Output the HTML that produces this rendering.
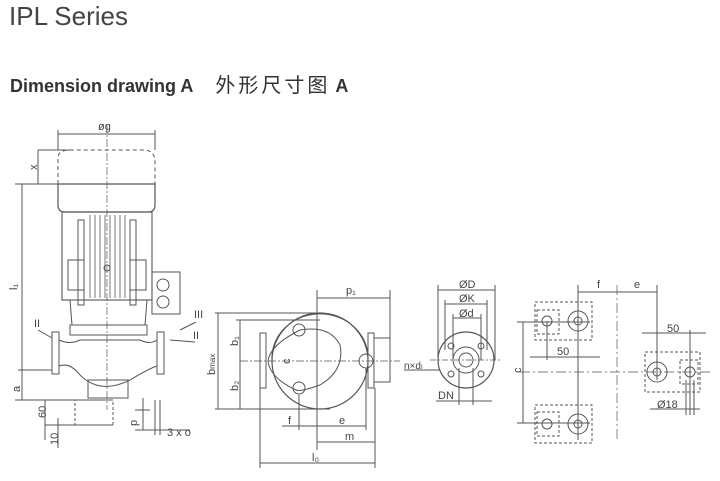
<!DOCTYPE html>
<html><head><meta charset="utf-8"><style>
body{margin:0;background:#fff;width:720px;height:481px;overflow:hidden;font-family:"Liberation Sans",sans-serif}
.t1{position:absolute;left:9px;top:1px;font-size:26px;color:#444}
.t2{position:absolute;left:10px;top:69px;font-size:18px;font-weight:bold;color:#333;font-family:"Liberation Sans","Noto Sans CJK SC",sans-serif}
.t2 span{font-weight:normal;margin-left:22px;font-size:20px;letter-spacing:3px}
svg{position:absolute;left:0;top:0}
</style></head><body>
<div class="t1">IPL Series</div>
<div class="t2">Dimension drawing A<span>外形尺寸图</span> <b>A</b></div>
<svg width="720" height="481" viewBox="0 0 720 481" fill="none" stroke="#555" stroke-width="1" font-family="Liberation Sans,sans-serif" font-size="11">
<g fill="#444" stroke="none">
<text x="98" y="130">øg</text>
<text x="37" y="170" transform="rotate(-90 37 170)">x</text>
<text x="17" y="290" transform="rotate(-90 17 290)">l₁</text>
<text x="20" y="392" transform="rotate(-90 20 392)">a</text>
<text x="46" y="418" transform="rotate(-90 46 418)">60</text>
<text x="58" y="445" transform="rotate(-90 58 445)">10</text>
<text x="137" y="426" transform="rotate(-90 137 426)">p</text>
<text x="167" y="436">3 x o</text>
<text x="34" y="327">II</text>
<text x="194" y="318">III</text>
<text x="193" y="339">II</text>
<text x="215" y="375" transform="rotate(-90 215 375)">b<tspan font-size="8">max</tspan></text>
<text x="238" y="346" transform="rotate(-90 238 346)">b₁</text>
<text x="238" y="391" transform="rotate(-90 238 391)">b₂</text>
<text x="290" y="364" transform="rotate(-90 290 364)">c</text>
<text x="346" y="294">p₁</text>
<text x="288" y="424">f</text>
<text x="339" y="424">e</text>
<text x="345" y="440">m</text>
<text x="312" y="461">l₀</text>
<text x="459" y="288">ØD</text>
<text x="459" y="302">ØK</text>
<text x="459" y="317">Ød</text>
<text x="404" y="369" font-size="10">n×dₗ</text>
<text x="438" y="399">DN</text>
<text x="597" y="288">f</text>
<text x="634" y="288">e</text>
<text x="521" y="373" transform="rotate(-90 521 373)">c</text>
<text x="557" y="355">50</text>
<text x="667" y="332">50</text>
<text x="657" y="408">Ø18</text>
</g>
<!-- left view -->
<line x1="58" y1="130" x2="58" y2="150"/><line x1="155" y1="130" x2="155" y2="150"/>
<line x1="58" y1="134" x2="155" y2="134"/>
<path d="M58 184 V158 Q58 150 70 150 H143 Q155 150 155 162 V184" stroke-dasharray="4 3"/>
<line x1="38" y1="150" x2="70" y2="150"/><line x1="38" y1="150" x2="38" y2="184"/>
<line x1="15" y1="184" x2="58" y2="184"/>
<path d="M58 184 H155 V205 Q155 212 148 212 H65 Q58 212 58 205 Z" stroke-width="1.2"/>
<rect x="62" y="212" width="90" height="88" stroke-width="1.1"/>
<g stroke-width="0.8"><line x1="90" y1="215" x2="90" y2="298"/><line x1="95" y1="215" x2="95" y2="298"/><line x1="100" y1="215" x2="100" y2="298"/><line x1="105" y1="215" x2="105" y2="298"/><line x1="110" y1="215" x2="110" y2="298"/><line x1="115" y1="215" x2="115" y2="298"/><line x1="120" y1="215" x2="120" y2="298"/><line x1="125" y1="215" x2="125" y2="298"/></g>
<rect x="68" y="260" width="16" height="30"/><rect x="130" y="260" width="16" height="30"/>
<rect x="78" y="220" width="6" height="85"/><rect x="130" y="220" width="6" height="85"/>
<rect x="152" y="272" width="28" height="42"/>
<circle cx="163" cy="285" r="6"/><circle cx="163" cy="302" r="6"/>
<circle cx="107" cy="268" r="3"/>
<path d="M70 300 L72 325 H145 L147 300"/>
<rect x="70" y="325" width="77" height="10"/>
<rect x="52" y="332" width="7" height="42"/><rect x="157" y="332" width="7" height="42"/>
<path d="M59 340 Q70 345 80 340 H140 Q150 345 157 340 M59 366 Q70 362 80 375 Q100 395 130 380 Q150 368 157 366"/>
<rect x="88" y="380" width="40" height="18"/>
<line x1="107" y1="125" x2="107" y2="410" stroke-dasharray="8 2 2 2" stroke-width="0.7"/>
<line x1="22" y1="184" x2="22" y2="400"/>
<line x1="15" y1="400" x2="110" y2="400"/>
<line x1="18" y1="370" x2="52" y2="370"/><line x1="22" y1="370" x2="22" y2="400"/>
<rect x="75" y="400" width="38" height="25" stroke-dasharray="3 2"/>
<line x1="45" y1="425" x2="113" y2="425"/><line x1="45" y1="400" x2="45" y2="440"/><line x1="58" y1="418" x2="58" y2="448"/>
<line x1="38" y1="330" x2="52" y2="338"/><line x1="196" y1="322" x2="180" y2="330"/><line x1="195" y1="342" x2="170" y2="340"/>
<line x1="143" y1="398" x2="143" y2="430"/><line x1="135" y1="410" x2="150" y2="410"/><line x1="135" y1="430" x2="190" y2="430"/><line x1="155" y1="400" x2="155" y2="435"/><line x1="160" y1="400" x2="160" y2="435"/>
<!-- middle view -->
<line x1="215" y1="313" x2="320" y2="313"/><line x1="215" y1="409" x2="330" y2="409"/>
<line x1="218" y1="313" x2="218" y2="409"/>
<line x1="236" y1="320" x2="320" y2="320"/><line x1="240" y1="320" x2="240" y2="409"/>
<circle cx="320" cy="361" r="48" stroke-width="1.2"/>
<path d="M272 361 A48 44 0 0 1 368 355" />
<path d="M300 330 Q330 325 340 345 Q345 370 320 385 Q300 392 296 390"/>
<path d="M300 330 Q270 345 268 361 Q270 378 296 390"/>
<rect x="260" y="333" width="6" height="55"/><rect x="368" y="333" width="6" height="55"/>
<rect x="374" y="338" width="16" height="44"/>
<circle cx="299" cy="330" r="6"/><circle cx="299" cy="388" r="6"/><circle cx="366" cy="361" r="7"/>
<line x1="240" y1="361" x2="400" y2="361" stroke-dasharray="8 2 2 2" stroke-width="0.7"/>
<line x1="317" y1="290" x2="317" y2="450"/>
<line x1="317" y1="298" x2="390" y2="298"/><line x1="390" y1="290" x2="390" y2="340"/>
<line x1="299" y1="395" x2="299" y2="430"/><line x1="366" y1="368" x2="366" y2="430"/>
<line x1="282" y1="426" x2="366" y2="426"/>
<line x1="317" y1="442" x2="375" y2="442"/><line x1="375" y1="388" x2="375" y2="468"/>
<line x1="260" y1="388" x2="260" y2="468"/><line x1="260" y1="463" x2="375" y2="463"/>
<!-- flange view -->
<circle cx="466" cy="360" r="28" stroke-width="1.2"/><circle cx="466" cy="360" r="13"/><circle cx="466" cy="360" r="7"/>
<circle cx="451" cy="346" r="3"/><circle cx="481" cy="346" r="3"/><circle cx="451" cy="374" r="3"/><circle cx="481" cy="374" r="3"/>
<line x1="438" y1="290" x2="495" y2="290"/><line x1="438" y1="285" x2="438" y2="360"/><line x1="495" y1="285" x2="495" y2="360"/>
<line x1="445" y1="304" x2="487" y2="304"/><line x1="445" y1="300" x2="445" y2="350"/><line x1="487" y1="300" x2="487" y2="350"/>
<line x1="453" y1="318" x2="481" y2="318"/><line x1="453" y1="314" x2="453" y2="360"/><line x1="481" y1="314" x2="481" y2="360"/>
<line x1="436" y1="401" x2="492" y2="401"/><line x1="459" y1="368" x2="459" y2="405"/><line x1="473" y1="368" x2="473" y2="405"/>
<line x1="404" y1="370" x2="440" y2="370"/>
<line x1="430" y1="360" x2="500" y2="360" stroke-dasharray="6 2 2 2" stroke-width="0.7"/>
<!-- right view -->
<line x1="578" y1="285" x2="578" y2="440"/><line x1="617" y1="285" x2="617" y2="440" stroke-dasharray="10 3 2 3" stroke-width="0.7"/><line x1="657" y1="285" x2="657" y2="380"/>
<line x1="578" y1="292" x2="657" y2="292"/>
<line x1="517" y1="322" x2="590" y2="322"/><line x1="517" y1="423" x2="590" y2="423"/><line x1="523" y1="322" x2="523" y2="423"/>
<line x1="520" y1="372" x2="710" y2="372" stroke-dasharray="10 3 2 3" stroke-width="0.7"/>
<g stroke-dasharray="3 2"><rect x="535" y="302" width="57" height="38"/><rect x="537" y="310" width="22" height="24"/><rect x="535" y="405" width="57" height="38"/><rect x="537" y="412" width="22" height="24"/><rect x="645" y="352" width="55" height="40"/><rect x="680" y="360" width="18" height="24"/></g>
<circle cx="547" cy="321" r="5"/><circle cx="578" cy="321" r="10"/><circle cx="578" cy="321" r="4"/>
<circle cx="547" cy="424" r="5"/><circle cx="578" cy="424" r="10"/><circle cx="578" cy="424" r="4"/>
<circle cx="657" cy="372" r="10"/><circle cx="657" cy="372" r="4"/><circle cx="690" cy="372" r="5"/>
<line x1="530" y1="357" x2="600" y2="357"/><line x1="547" y1="321" x2="547" y2="360"/>
<line x1="642" y1="333" x2="706" y2="333"/><line x1="690" y1="330" x2="690" y2="415"/>
<line x1="650" y1="409" x2="700" y2="409"/><line x1="686" y1="380" x2="686" y2="415"/><line x1="694" y1="380" x2="694" y2="415"/>
</svg>
</body></html>
